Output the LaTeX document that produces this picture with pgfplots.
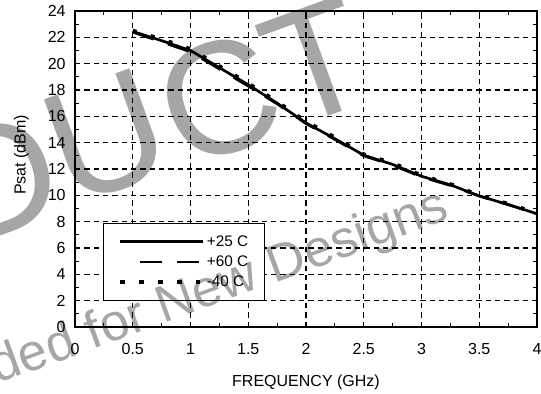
\documentclass[border=0pt]{standalone}
\usepackage{fontspec}
\setmainfont{Liberation Sans}
\usepackage{pgfplots}
\pgfplotsset{compat=1.18}
\definecolor{wm}{gray}{0.65}
\pgfplotsset{
  legfull/.style={legend image code/.code={\draw[black, line width=2pt, solid] (0pt,0pt) -- (62pt,0pt);}},
  legdash/.style={legend image code/.code={\path[draw=none] (0pt,0pt) -- (62pt,0pt); \draw[black, line width=2pt, dash pattern=on 16.5pt off 11.25pt] (15pt,0pt) -- (60.75pt,0pt);}},
  legdot/.style={legend image code/.code={\draw[black, line width=3.5pt, dash pattern=on 3.5pt off 10.6pt] (0pt,0pt) -- (62pt,0pt);}},
}
\tikzset{wmbig/.style={rotate=20, anchor=center, inner sep=0pt, text=wm, font=\fontsize{120}{120}\selectfont}}
\begin{document}
\begin{tikzpicture}
\useasboundingbox (-56.25pt,-49.5pt) rectangle (349.5pt,245.25pt);
\begin{axis}[
  at={(0pt,0pt)}, anchor=south west,
  scale only axis, width=346.5pt, height=237pt,
  xmin=0, xmax=4, ymin=0, ymax=24,
  xtick={0,0.5,...,4}, ytick={0,2,...,24},
  xticklabels={0,0.5,1,1.5,2,2.5,3,3.5,4},
  minor x tick num=1, minor y tick num=1,
  tick align=inside, major tick length=4pt, minor tick length=3pt,
  every tick/.style={black, line width=0.8pt},
  axis line style={line width=2.2pt},
  grid=major,
  major grid style={black, line width=0.8pt, dash pattern=on 4pt off 3pt},
  /pgf/number format/assume math mode=true,
  tick label style={font=\fontsize{12}{14}\selectfont},
  xticklabel style={yshift=-8.5pt},
  yticklabel style={xshift=-3.5pt},
  label style={font=\fontsize{12}{14}\selectfont},
  xlabel={FREQUENCY (GHz)},
  ylabel={Psat (dBm)},
  xlabel style={at={(axis description cs:0.5,-0.174)}, anchor=center},
  ylabel style={at={(axis description cs:-0.116,0.545)}, anchor=center},
  legend style={at={(axis description cs:0.0606,0.0823)}, anchor=south west,
    draw=black, line width=0.75pt, fill=white,
    font=\fontsize{11.5}{13}\selectfont,
    inner xsep=11pt, inner ysep=8pt, row sep=3.6pt,
    nodes={inner sep=1pt},
    /tikz/every even column/.append style={column sep=8.5pt}},
  legend cell align=left,
]
\addplot[black, line width=2pt, legfull]
  coordinates {(0.5,22.45) (0.75,21.75) (1.0,21.0) (1.25,19.7) (1.5,18.4) (1.75,17.0) (2.0,15.5) (2.25,14.3) (2.5,13.05) (2.75,12.35) (3.0,11.45) (3.25,10.8) (3.5,9.95) (3.75,9.3) (4.0,8.6)};
\addlegendentry{+25 C}
\addplot[black, line width=2pt, dash pattern=on 16.5pt off 11.25pt, legdash]
  coordinates {(0.5,22.4) (0.75,21.65) (1.0,20.9) (1.25,19.6) (1.5,18.3) (1.75,16.95) (2.0,15.45) (2.25,14.25) (2.5,13.0) (2.75,12.3) (3.0,11.4) (3.25,10.75) (3.5,9.95) (3.75,9.3) (4.0,8.6)};
\addlegendentry{+60 C}
\addplot[black, line width=3pt, dash pattern=on 3pt off 11pt, legdot]
  coordinates {(0.5,22.5) (0.75,21.85) (1.0,21.1) (1.25,19.8) (1.5,18.5) (1.75,17.1) (2.0,15.6) (2.25,14.4) (2.5,13.1) (2.75,12.45) (3.0,11.5) (3.25,10.85) (3.5,10.0) (3.75,9.35) (4.0,8.65)};
\addlegendentry{-40 C}
\end{axis}
\begin{scope}[blend mode=multiply]
\node[wmbig] at (-56.9pt,111.8pt) {D};
\node[wmbig] at (23.25pt,142.5pt) {U};
\node[wmbig] at (107.6pt,171pt) {C};
\node[wmbig] at (181.1pt,198.45pt) {T};
\node[rotate=20, anchor=base east, inner sep=0pt, text=wm,
  font=\fontsize{39}{39}\selectfont] at (282.5pt,81.2pt) {Not Recommended for New Designs};
\end{scope}
\end{tikzpicture}
\end{document}
